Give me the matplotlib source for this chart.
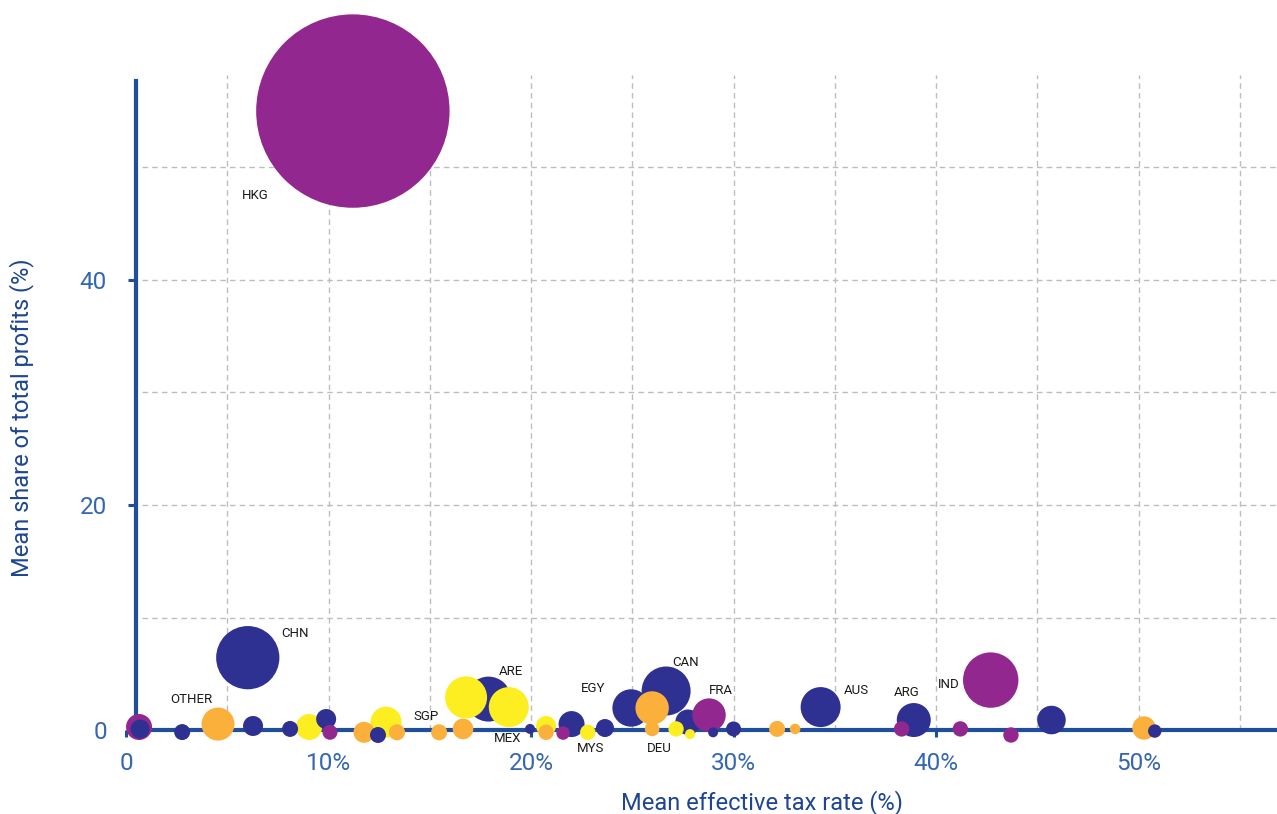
import numpy as np
import matplotlib
matplotlib.use("Agg")
from matplotlib import pyplot as plt

plt.rcParams['font.family'] = ['Roboto', 'DejaVu Sans']

# bubble data: mean effective tax rate (%), mean share of total profits (%),
# relative bubble area and colour group
tax_rate = [11.2, 42.7, 6.01, 26.67, 17.9, 16.79, 18.9, 34.3, 24.94, 38.9,
            27.75, 28.79, 25.98, 4.54, 12.84, 45.7, 0.64, 9.04, 22.0, 50.27,
            11.75, 16.64, 0.69, 6.27, 9.88, 20.74, 23.65, 2.77, 8.1, 12.44,
            13.38, 15.46, 32.15, 20.74, 22.8, 27.16, 38.3, 41.2, 43.7, 10.07,
            30.0, 25.98, 21.58, 50.8, 33.04, 19.95, 27.85, 28.99]
profit_share = [55.0, 4.44, 6.43, 3.47, 2.75, 2.9, 2.04, 2.04, 1.96, 0.89,
                0.7, 1.33, 1.96, 0.53, 0.7, 0.89, 0.27, 0.27, 0.53, 0.18,
                -0.2, 0.1, 0.09, 0.36, 0.98, 0.36, 0.18, -0.18, 0.1, -0.44,
                -0.2, -0.2, 0.1, -0.2, -0.2, 0.1, 0.1, 0.1, -0.44, -0.2,
                0.1, 0.1, -0.27, -0.09, 0.1, 0.1, -0.36, -0.2]
bubble = [93.5, 7.67, 10.0, 6.0, 5.06, 4.41, 4.0, 4.0, 3.5, 2.89,
          1.61, 2.79, 2.79, 2.72, 2.4, 2.04, 1.69, 1.69, 1.69, 1.37,
          1.1, 1.06, 0.9, 1.0, 1.0, 1.0, 0.81, 0.64, 0.64, 0.64,
          0.64, 0.64, 0.64, 0.59, 0.59, 0.59, 0.59, 0.59, 0.59, 0.56,
          0.56, 0.53, 0.45, 0.45, 0.28, 0.25, 0.25, 0.25]
group = ["p", "p", "n", "n", "n", "y", "y", "n", "n", "n",
         "n", "p", "o", "o", "y", "n", "p", "y", "n", "o",
         "o", "o", "n", "n", "n", "y", "n", "n", "n", "n",
         "o", "o", "o", "o", "y", "y", "p", "p", "p", "p",
         "n", "o", "p", "n", "o", "n", "y", "n"]

labels = ["HKG", "CHN", "OTHER", "SGP", "ARE", "MEX", "EGY", "MYS",
          "CAN", "FRA", "DEU", "AUS", "ARG", "IND"]
label_x = [6.4, 8.35, 3.24, 14.8, 19.0, 18.86, 23.06, 22.96,
           27.65, 29.38, 26.32, 36.05, 38.57, 40.64]
label_y = [47.5, 8.6, 2.67, 1.19, 5.16, -0.71, 3.73, -1.6,
           6.04, 3.47, -1.6, 3.47, 3.38, 4.09]

palette = {"p": "#92278f", "n": "#2e3192", "o": "#fbb03b", "y": "#fcee21"}
axis_blue = "#1f4e9c"
tick_blue = "#3466b2"
title_blue = "#1d4593"

fig = plt.figure(figsize=(12.77, 8.14), dpi=100)
ax = fig.add_axes([0.0908, 0.0824, 0.9086, 0.8254])
ax.set_xlim(-0.5, 56.8)
ax.set_ylim(-1.5, 58.2)

# dashed grid
for gx in np.arange(5, 56, 5):
    ax.plot([gx, gx], [0, 58.2], color="#bdbdbd", lw=1, ls=(0, (4, 3)), zorder=1)
for gy in np.arange(10, 51, 10):
    ax.plot([0.8, 56.8], [gy, gy], color="#bdbdbd", lw=1, ls=(0, (4, 3)), zorder=1)

# bubbles (area scaled to pixels)
sizes = [b * 100 * 1.44 ** 2 for b in bubble]
colors = [palette[g] for g in group]
ax.scatter(tax_rate, profit_share, s=sizes, c=colors, linewidths=0,
           zorder=3, clip_on=False)

for lab, lx, ly in zip(labels, label_x, label_y):
    ax.text(lx, ly, lab, fontsize=9.5, color="#1a1a1a", ha="center",
            va="center", zorder=4)

# axes styling
for s in ["top", "right"]:
    ax.spines[s].set_visible(False)
ax.spines["left"].set_position(("data", 0.5))
ax.spines["bottom"].set_position(("data", 0))
ax.spines["left"].set_bounds(0, 57.7)
ax.spines["bottom"].set_bounds(0.5, 56.8)
for s in ["left", "bottom"]:
    ax.spines[s].set_color(axis_blue)
    ax.spines[s].set_linewidth(3)
    ax.spines[s].set_zorder(2)

ax.set_xticks([0, 10, 20, 30, 40, 50])
ax.set_xticklabels(["0", "10%", "20%", "30%", "40%", "50%"])
ax.set_yticks([0, 20, 40])
ax.set_yticklabels(["0", "20", "40"])
ax.tick_params(axis="x", direction="out", length=5, width=2.2, color=axis_blue,
               labelsize=17.5, labelcolor=tick_blue, pad=11)
ax.tick_params(axis="y", direction="out", length=6, width=2.2, color=axis_blue,
               labelsize=17.5, labelcolor=tick_blue, pad=15)

ax.set_xlabel("Mean effective tax rate (%)", fontsize=17, color=title_blue, va="center")
ax.set_ylabel("Mean share of total profits (%)", fontsize=17, color=title_blue, va="center")
ax.xaxis.set_label_coords(0.557, -0.0835)
ax.yaxis.set_label_coords(-0.081, 0.4895)

plt.savefig("out.png", dpi=100)
